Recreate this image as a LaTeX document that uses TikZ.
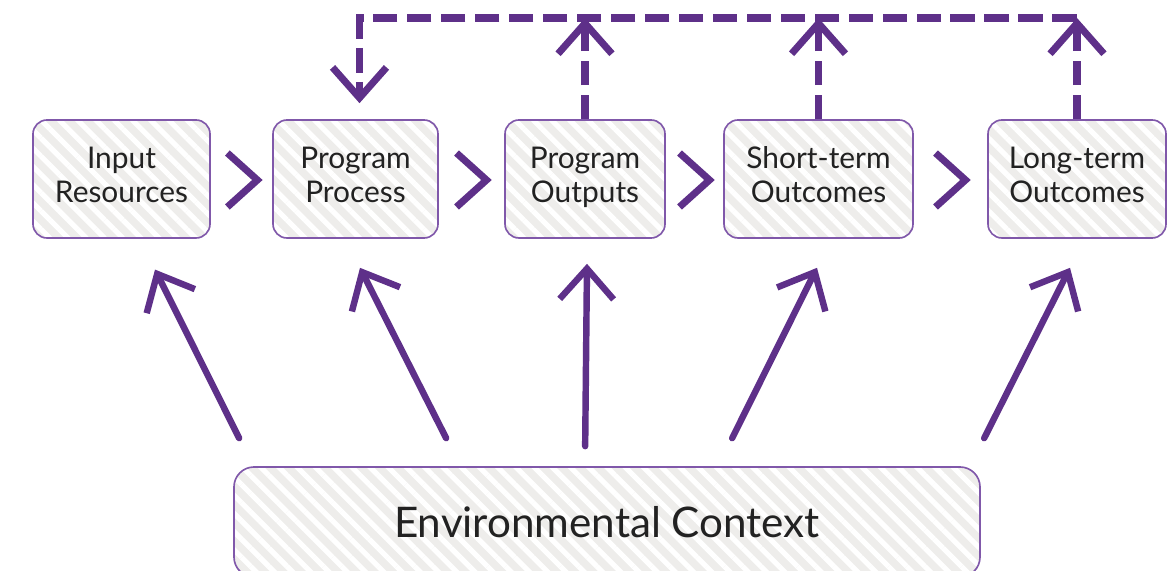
\documentclass[tikz,border=0pt]{standalone}
\usepackage{fontspec}
\setmainfont{Lato}
\usetikzlibrary{arrows.meta, patterns.meta, calc}
\definecolor{lmpurple}{RGB}{94,48,137}
\definecolor{lmborder}{RGB}{128,88,170}
\definecolor{lmgray}{RGB}{238,237,235}
\definecolor{lmtext}{RGB}{34,34,34}

\begin{document}
\begin{tikzpicture}[x=0.03cm, y=-0.03cm,
    stage/.style={draw=lmborder, line width=1.4pt, rounded corners=0.42cm,
      minimum height=3.54cm, inner sep=0pt, align=center, text=lmtext,
      font=\fontsize{25.5}{28.5}\selectfont,
      preaction={fill=lmgray},
      pattern={Lines[angle=-45,distance=11pt,line width=4.4pt]}, pattern color=white},
    chev/.style={draw=lmpurple, line width=6pt, miter limit=10},
    infl/.style={draw=lmpurple, line width=5.5pt, line cap=round,
      -{Straight Barb[length=26pt,width=46pt,line cap=butt]}},
    feedback/.style={draw=lmpurple, line width=6pt, dash pattern=on 21pt off 8pt}]
  \useasboundingbox (0,0) rectangle (1173,571);

  % stages of the logic model
  \node[stage, minimum width=5.31cm] (in)    at (121.5,179) {Input\strut\\Resources\strut};
  \node[stage, minimum width=4.95cm] (proc)  at (355.5,179) {Program\strut\\Process\strut};
  \node[stage, minimum width=4.80cm] (out)   at (585,179)   {Program\strut\\Outputs\strut};
  \node[stage, minimum width=5.67cm] (short) at (818.5,179) {Short-term\strut\\Outcomes\strut};
  \node[stage, minimum width=5.34cm] (long)  at (1077,179)  {Long-term\strut\\Outcomes\strut};

  \node[stage, minimum width=22.38cm, minimum height=3.3cm, rounded corners=0.6cm,
    font=\fontsize{36}{42}\selectfont] (env) at (607,522) {Environmental Context};

  % chevrons between stages
  \foreach \a/\b in {in/proc, proc/out, out/short, short/long}
    \draw[chev] ($(\a.east)!0.5!(\b.west)+(-15,-26)$) -- ++(30,27) -- ++(-30,27);

  % feedback loop
  \coordinate (fb) at (0,18);
  \foreach \b in {out, short, long}
    \draw[feedback, -{Straight Barb[length=26pt,width=46pt]}] (\b.north) -- (\b.north |- fb);
  \draw[feedback, -{Straight Barb[length=26pt,width=46pt]}]
    (long.north |- fb) -- ($(proc.north |- fb)+(4,0)$) -- ($(proc.north)+(4,-16)$);

  % influence of the environment
  \foreach \b/\tx/\ty/\dx/\dy in {in/6/-28/33.5/29, proc/213/-28/4.5/29,
      out/352/-20/2/25, short/499/-28/-1.5/29, long/751/-28/-7/29}
    \draw[infl] ($(env.north west)+(\tx,\ty)$) -- ($(\b.south)+(\dx,\dy)$);
\end{tikzpicture}
\end{document}
